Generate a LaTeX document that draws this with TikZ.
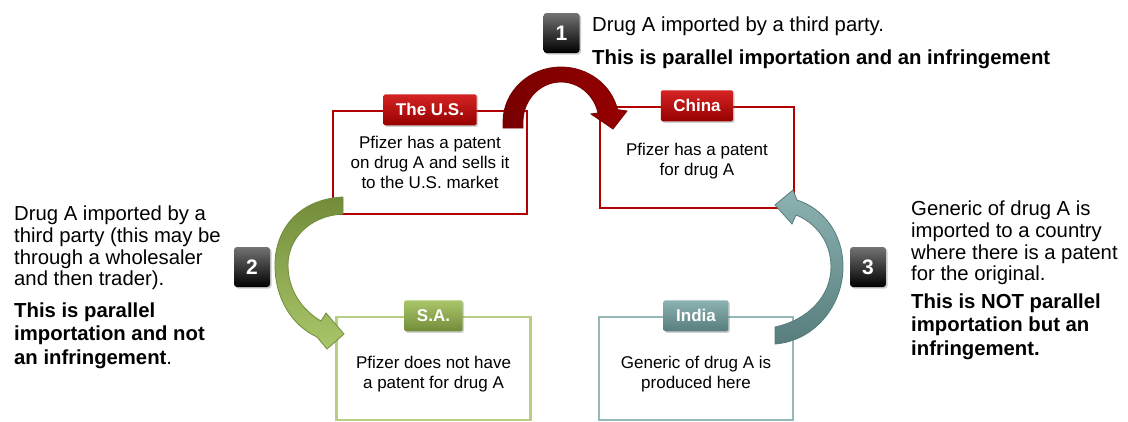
\documentclass[tikz,border=0pt]{standalone}
\usepackage{fontspec}
\setmainfont{Liberation Sans}
\usetikzlibrary{positioning, shadows}

\definecolor{rojo}{RGB}{178,0,0}
\definecolor{rojoclaro}{RGB}{214,36,36}
\definecolor{rojooscuro}{RGB}{150,0,0}
\definecolor{rojoflecha}{RGB}{120,0,0}
\definecolor{verdeclaro}{RGB}{170,198,106}
\definecolor{verdeoscuro}{RGB}{114,140,58}
\definecolor{verdeborde}{RGB}{184,206,130}
\definecolor{grisclaro}{RGB}{140,178,178}
\definecolor{grisoscuro}{RGB}{88,125,125}
\definecolor{grisborde}{RGB}{150,184,184}

\tikzset{
  caja/.style={draw, line width=2.5pt, fill=white, minimum width=194pt, minimum height=103pt, inner sep=0pt},
  cuerpo/.style={align=center, inner sep=0pt, font=\fontsize{17}{20}\selectfont},
  pestana/.style={rectangle, rounded corners=1.5pt, inner xsep=12.5pt, minimum height=31pt,
    text=white, font=\fontsize{17}{20}\selectfont\bfseries,
    drop shadow={opacity=0.35, shadow xshift=1.5pt, shadow yshift=-1.5pt}},
  numero/.style={rectangle, rounded corners=3pt, minimum width=36pt, minimum height=40pt,
    top color=black!55, bottom color=black, text=white, font=\fontsize{21}{24}\selectfont\bfseries,
    drop shadow={opacity=0.4, shadow xshift=1.5pt, shadow yshift=-1.5pt}},
  texto/.style={align=left, anchor=north west, inner sep=0pt, font=\fontsize{20.3}{21.6}\selectfont},
  negrita/.style={texto, font=\fontsize{20.3}{23.5}\selectfont\bfseries}
}

\begin{document}
\begin{tikzpicture}[x=1pt, y=-1pt]
        % Fondo (tamaño de la figura)
        \fill[white] (0,0) rectangle (1128,421);
        \useasboundingbox (0,0) rectangle (1128,421);

        % Cajas de los países
        \node[caja, draw=rojo] (us) at (430,162.5) {};
        \node[caja, draw=rojo, minimum height=101pt] (china) at (697,157.5) {};
        \node[caja, draw=verdeborde] (sa) at (433.5,368.5) {};
        \node[caja, draw=grisborde] (india) at (696,368.5) {};

        % Texto dentro de las cajas
        \node[cuerpo] (us_t) at (us.center) {Pfizer has a patent\\on drug A and sells it\\to the U.S. market};
        \node[cuerpo] (china_t) at ([yshift=-4pt]china.center) {Pfizer has a patent\\for drug A};
        \node[cuerpo] (sa_t) at ([yshift=-6pt]sa.center) {Pfizer does not have\\a patent for drug A};
        \node[cuerpo] (india_t) at ([yshift=-6pt]india.center) {Generic of drug A is\\produced here};

        % Flecha 1 (roja, de U.S. a China)
        \path[draw=rojoflecha, line width=0.8pt, left color=rojoflecha, right color=rojooscuro]
          (503,128) -- (503,122) arc[start angle=180, end angle=347, x radius=58, y radius=55]
          -- (627,111) -- (613,129) -- (591,114) -- (598,113)
          arc[start angle=347, end angle=180, x radius=38, y radius=40] -- (523,128) -- cycle;

        % Flecha 2 (verde, de U.S. a S.A.)
        \path[draw=verdeoscuro, line width=0.8pt, top color=verdeoscuro, bottom color=verdeclaro]
          (343,197) .. controls (300,199) and (275,228) .. (275,265)
          .. controls (275,300) and (293,326) .. (317,337) -- (327,349) -- (344,334) -- (326,313) -- (321,321)
          .. controls (302,310) and (288,290) .. (288,265)
          .. controls (288,240) and (308,216) .. (343,214) -- cycle;

        % Flecha 3 (gris, de India a China)
        \path[draw=grisoscuro, line width=0.8pt, top color=grisclaro, bottom color=grisoscuro]
          (775,344) .. controls (815,341) and (843,305) .. (843,267)
          .. controls (843,232) and (822,208) .. (797,200) -- (793,190) -- (775,205) -- (792,224) -- (796,215)
          .. controls (814,222) and (831,240) .. (831,267)
          .. controls (831,296) and (808,320) .. (775,327) -- cycle;

        % Pestañas con el nombre del país
        \node[pestana, top color=rojoclaro, bottom color=rojooscuro] (tus) at (us.north) {The U.S.};
        \node[pestana, top color=rojoclaro, bottom color=rojooscuro] (tchina) at (china.north) {China};
        \node[pestana, top color=verdeclaro, bottom color=verdeoscuro] (tsa) at (sa.north) {S.A.};
        \node[pestana, top color=grisclaro, bottom color=grisoscuro] (tindia) at (india.north) {India};

        % Números
        \node[numero] (n1) at (561.5,33) {1};
        \node[numero] (n2) at (252,267) {2};
        \node[numero] (n3) at (868,267) {3};

        % Texto de arriba (caso 1)
        \node[texto] (arr1) at (592,16.5) {Drug A imported by a third party.};
        \node[negrita, below=14pt of arr1.south west, anchor=north west] (arr2) {This is parallel importation and an infringement};

        % Texto de la izquierda (caso 2)
        \node[texto] (izq1) at (14,206) {Drug A imported by a\\third party (this may be\\through a wholesaler\\and then trader).};
        \node[negrita, below=12pt of izq1.south west, anchor=north west] (izq2) {This is parallel\\importation and not\\an infringement{\mdseries .}};

        % Texto de la derecha (caso 3)
        \node[texto] (der1) at (911,201) {Generic of drug A is\\imported to a country\\where there is a patent\\for the original.};
        \node[negrita, below=8pt of der1.south west, anchor=north west] (der2) {This is NOT parallel\\importation but an\\infringement.};
\end{tikzpicture}
\end{document}
